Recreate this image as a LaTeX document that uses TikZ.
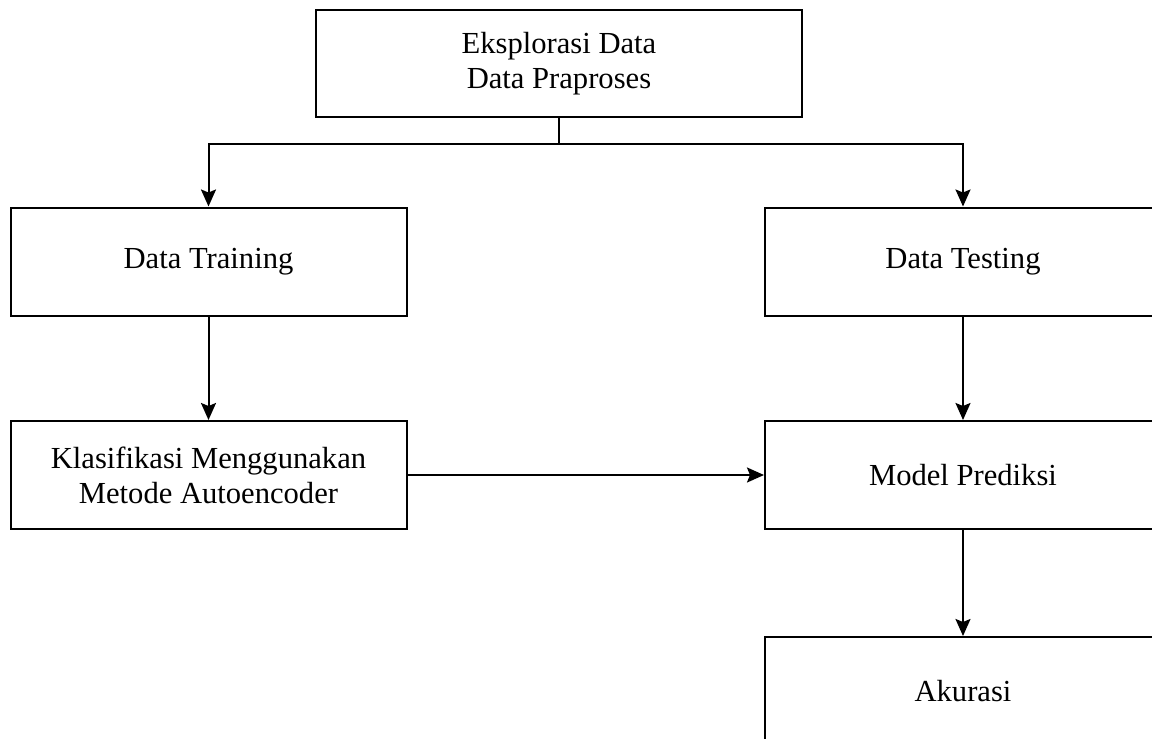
\documentclass[tikz,border=0pt]{standalone}
\usepackage{fontspec}
\setmainfont{Liberation Serif}
\usetikzlibrary{arrows.meta}

\begin{document}
\begin{tikzpicture}[x=0.5pt, y=-0.5pt,
  box/.style={draw, line width=1pt, minimum width=198pt, minimum height=54pt,
    inner sep=0pt, align=center, font=\fontsize{15.3}{17.5}\selectfont},
  arrow/.style={line width=1pt, -{Stealth[length=8.5pt, width=7.5pt, inset=1.5pt]}}]
  % page size
  \useasboundingbox (0,0) rectangle (1152,739);

  % boxes
  \node[box, minimum width=243pt, minimum height=53.5pt] (explore) at (559,63.5) {Eksplorasi Data\\Data Praproses};
  \node[box] (train) at (208.5,261.5) {Data Training};
  \node[box] (test) at (963,261.5) {Data Testing};
  \node[box] (classify) at (208.5,475) {Klasifikasi Menggunakan\\Metode Autoencoder};
  \node[box] (model) at (963,475) {Model Prediksi};
  \node[box] (accuracy) at (963,691) {Akurasi};

  % split line
  \coordinate (split) at (559,144);
  \draw[line width=1pt] (explore) -- (split);
  \draw[arrow] (split) -| (train);
  \draw[arrow] (split) -| (test);

  % flow
  \draw[arrow] (train) -- (classify);
  \draw[arrow] (test) -- (model);
  \draw[arrow] (classify) -- (model);
  \draw[arrow] (model) -- (accuracy);
\end{tikzpicture}
\end{document}
